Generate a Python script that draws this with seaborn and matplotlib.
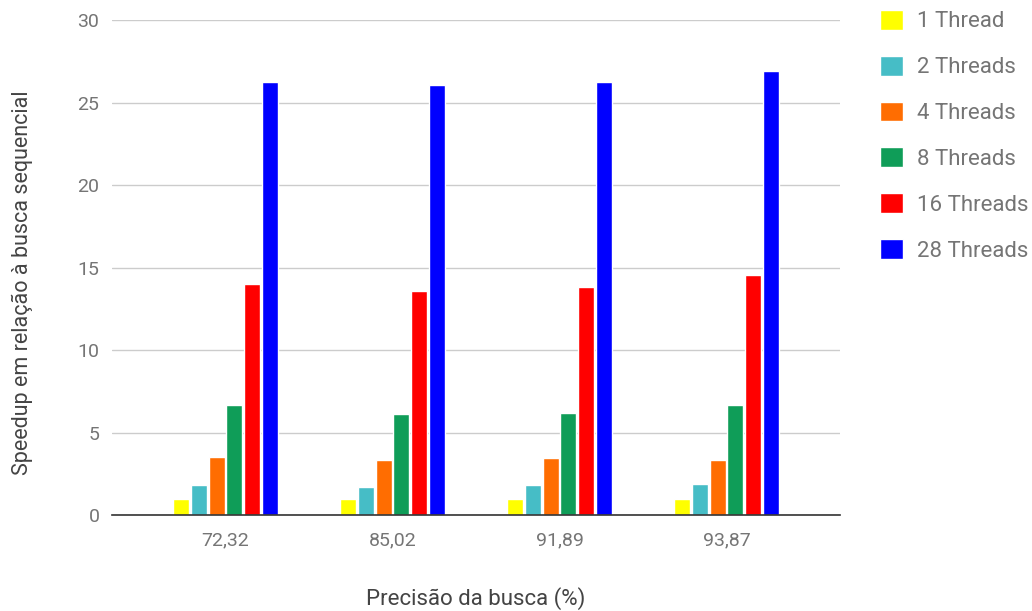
import pandas as pd
import seaborn as sns
import matplotlib.pyplot as plt

# valores
precisao = ["72,32", "85,02", "91,89", "93,87"]
threads = ["1 Thread", "2 Threads", "4 Threads", "8 Threads", "16 Threads", "28 Threads"]
t1 = [1.0, 1.0, 1.0, 1.0]
t2 = [1.8, 1.7, 1.8, 1.9]
t4 = [3.55, 3.35, 3.45, 3.35]
t8 = [6.65, 6.1, 6.2, 6.65]
t16 = [14.0, 13.6, 13.8, 14.55]
t28 = [26.25, 26.05, 26.25, 26.9]
cores = ["#ffff00", "#46bdc6", "#ff6d01", "#0f9d58", "#ff0000", "#0000ff"]

linhas = []
for nome, vals in zip(threads, [t1, t2, t4, t8, t16, t28]):
    for p, v in zip(precisao, vals):
        linhas.append({"precisao": p, "threads": nome, "speedup": v})
df = pd.DataFrame(linhas)

sns.set_style("white")
plt.rcParams['font.family'] = ['Roboto', 'DejaVu Sans']
cinza = "#757575"

fig = plt.figure(figsize=(10.32, 6.11), dpi=100)
ax = fig.add_axes([0.1085, 0.157, 0.7055, 0.81])
sns.barplot(data=df, x="precisao", y="speedup", hue="threads", order=precisao,
            hue_order=threads, palette=cores, width=0.64, gap=0.1, saturation=1,
            ax=ax, legend=True)

ax.set_ylim(0, 30)
ax.set_yticks([0, 5, 10, 15, 20, 25, 30])
ax.set_xlim(-0.68, 3.68)
ax.yaxis.grid(True, color="#cccccc", linewidth=1)
ax.set_axisbelow(True)
for s in ["top", "right", "left"]:
    ax.spines[s].set_visible(False)
ax.spines["bottom"].set_color("#333333")
ax.spines["bottom"].set_linewidth(1.2)
ax.tick_params(axis="both", length=0, labelsize=14, colors=cinza)
ax.tick_params(axis="x", pad=12)
ax.tick_params(axis="y", pad=9)
ax.set_xlabel("Precisão da busca (%)", fontsize=16, color="#444444", labelpad=27)
ax.set_ylabel("Speedup em relação à busca sequencial", fontsize=15.5, color="#444444")
ax.yaxis.set_label_coords(-0.108, 0.47)

h, l = ax.get_legend_handles_labels()
ax.get_legend().remove()
leg = fig.legend(h, l, loc="upper left", bbox_to_anchor=(0.853, 0.984), frameon=False,
                 fontsize=16, handlelength=1.0, handleheight=1.0, labelspacing=1.05,
                 handletextpad=0.63, borderpad=0, borderaxespad=0)
for t in leg.get_texts():
    t.set_color(cinza)

fig.savefig("out.png", dpi=100)
